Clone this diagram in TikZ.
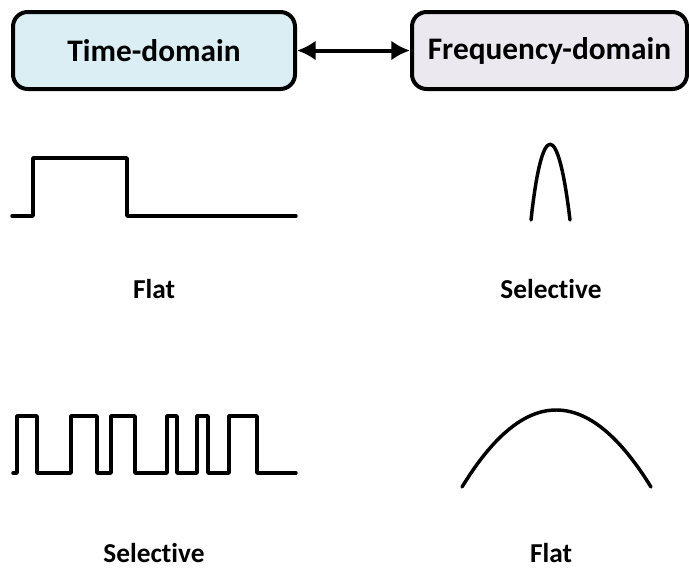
\documentclass[tikz,border=0pt]{standalone}
\usepackage{fontspec}
\setmainfont{Carlito}[Ligatures=NoCommon]
\usetikzlibrary{arrows.meta}
\definecolor{timefill}{HTML}{DAEEF3}
\definecolor{freqfill}{HTML}{EBE8F0}
\tikzset{
  domainbox/.style={draw=black, line width=3pt, rounded corners=11pt, inner sep=0pt,
    font=\fontsize{23.5}{26}\selectfont\bfseries},
  wave/.style={line width=2.6pt, line cap=round, line join=round},
  lbl/.style={font=\fontsize{20.5}{23}\selectfont\bfseries, anchor=base, inner sep=0pt},
  link/.style={line width=3pt, {Latex[length=14pt,width=15pt]}-{Latex[length=14pt,width=15pt]}}
}
\begin{document}
\begin{tikzpicture}[x=0.75pt, y=-0.75pt]
\useasboundingbox (0,0) rectangle (689,569);
% boxes
\node[domainbox, fill=timefill, minimum width=282*0.75pt, minimum height=77*0.75pt] (time) at (154,50.5) {Time-domain};
\node[domainbox, fill=freqfill, minimum width=275*0.75pt, minimum height=77*0.75pt] (freq) at (549.5,50.5) {Frequency-domain};
\draw[link] (time.east) -- (freq.west);
% single pulse
\draw[wave] (12,216) -- (33,216) -- (33,158) -- (127,158) -- (127,216) -- (296,216);
% narrow arch
\draw[wave] (531,220) .. controls (542,119) and (558,119) .. (570,220);
% pulse train
\draw[wave] (13,473) -- (17,473) -- (17,416) -- (37,416) -- (37,473) -- (71,473) -- (71,416)
  -- (97,416) -- (97,473) -- (111,473) -- (111,416) -- (135,416) -- (135,473)
  -- (167,473) -- (167,416) -- (177,416) -- (177,473) -- (197,473) -- (197,416)
  -- (208,416) -- (208,473) -- (229,473) -- (229,416) -- (257,416) -- (257,473) -- (296,473);
% wide arch
\draw[wave] (462,487) .. controls (524.7,384.3) and (587.7,384.3) .. (651,487);
% labels
\node[lbl] (l1) at (154,298) {Flat};
\node[lbl] (l2) at (551,298) {Selective};
\node[lbl] (l3) at (154,562) {Selective};
\node[lbl] (l4) at (551,562) {Flat};
\end{tikzpicture}
\end{document}
